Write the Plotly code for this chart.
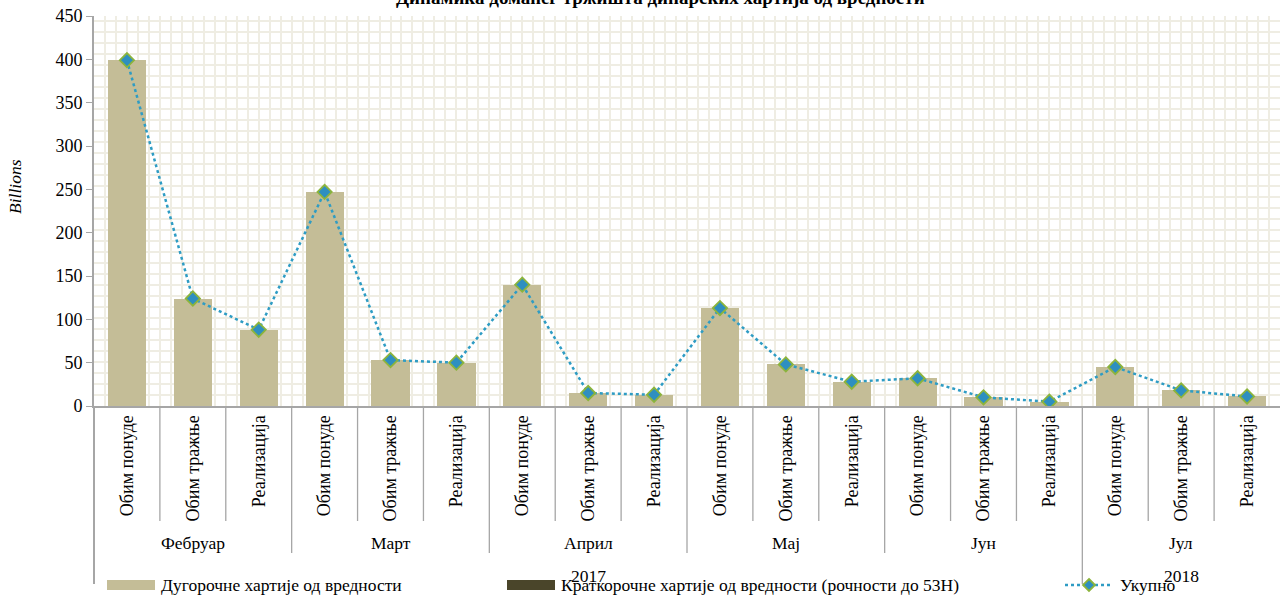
import plotly.graph_objects as go

# ---- data ----
months = ["Фебруар", "Март", "Април", "Мај", "Јун", "Јул"]
measures = ["Обим понуде", "Обим тражње", "Реализација"]
years = ["2017", "2018"]
year_months = [5, 1]  # number of months in each year group
long_term = [399, 124, 88, 247, 53, 50, 140, 15, 13, 113, 48, 28, 32, 10, 5, 45, 18, 11]
short_term = [0] * 18
total = [a + b for a, b in zip(long_term, short_term)]

series_names = ["Дугорочне хартије од вредности",
                "Краткорочне хартије од вредности (рочности до 53Н)",
                "Укупно"]
title_text = "Динамика домаћег тржишта динарских хартија од вредности"
y_title = "Billions"
y_ticks = [0, 50, 100, 150, 200, 250, 300, 350, 400, 450]

# ---- styling ----
W, H = 1280, 596
L, R, T, B = 94, 0, 16, 190
plot_h = H - T - B
FONT = "Liberation Serif, Times New Roman, serif"
FS = 17.5
FS_TICK = 18
BEIGE = "#C4BD97"
OLIVE = "#4A452A"
LINE_C = "#2E9CC4"
AX_C = "#A6A6A6"
PAT_C = "#EFEDE3"

def py(pix):  # pixel row -> paper y
    return (H - B - pix) / plot_h

def px(pix):  # pixel column -> paper x
    return (pix - L) / (W - L - R)

n = len(months) * len(measures)
xs = list(range(n))
labels = [m for _ in months for m in measures]

fig = go.Figure()
fig.add_trace(go.Bar(x=xs, y=long_term, name=series_names[0], marker=dict(color=BEIGE, line=dict(width=0)),
                     width=0.58, showlegend=False, hoverinfo="skip"))
fig.add_trace(go.Bar(x=xs, y=short_term, name=series_names[1], marker=dict(color=OLIVE, line=dict(width=0)),
                     width=0.58, showlegend=False, hoverinfo="skip"))
fig.add_trace(go.Scatter(x=xs, y=total, name=series_names[2], mode="lines+markers",
                         line=dict(color=LINE_C, width=2.5, dash="dot"),
                         marker=dict(symbol="diamond", size=11, color="#2E8FC0",
                                     line=dict(color="#8CB43C", width=1.8)),
                         showlegend=False, hoverinfo="skip"))

shapes = []
annotations = []
k = len(measures)
# dividers between measures inside a month
for mi in range(len(months)):
    for j in range(1, k):
        xb = mi * k + j - 0.5
        shapes.append(dict(type="line", xref="x", yref="paper", x0=xb, x1=xb, y0=0, y1=py(521),
                           line=dict(color=AX_C, width=1.3), layer="above"))
# dividers between months / years
year_bounds = []
acc = 0
for c in year_months:
    acc += c
    year_bounds.append(acc)
for mi in range(1, len(months)):
    xb = mi * k - 0.5
    y_end = py(584) if mi in year_bounds else py(553)
    shapes.append(dict(type="line", xref="x", yref="paper", x0=xb, x1=xb, y0=0, y1=y_end,
                       line=dict(color=AX_C, width=1.3), layer="above"))
# left extension of y axis line
shapes.append(dict(type="line", xref="paper", yref="paper", x0=0, x1=0, y0=0, y1=py(584),
                   line=dict(color=AX_C, width=2), layer="above"))

# month labels
for mi, m in enumerate(months):
    annotations.append(dict(x=mi * k + (k - 1) / 2, y=py(543), xref="x", yref="paper", text=m,
                            showarrow=False, xanchor="center", yanchor="middle",
                            font=dict(family=FONT, size=FS, color="black")))
# year labels
start = 0
for yname, c in zip(years, year_months):
    first = start * k
    last = (start + c) * k - 1
    annotations.append(dict(x=(first + last) / 2, y=py(576), xref="x", yref="paper", text=yname,
                            showarrow=False, xanchor="center", yanchor="middle",
                            font=dict(family=FONT, size=FS, color="black")))
    start += c

# title (cut at top, as in reference)
annotations.append(dict(x=px(660), y=py(10), xref="paper", yref="paper", text="<b>" + title_text + "</b>",
                        showarrow=False, xanchor="center", yanchor="bottom",
                        font=dict(family=FONT, size=19, color="black")))
# y title
annotations.append(dict(x=px(15), y=py(187), xref="paper", yref="paper", text=y_title, textangle=-90,
                        showarrow=False, xanchor="center", yanchor="middle",
                        font=dict(family=FONT, size=FS, color="black", style="italic")))

# legend (manual)
leg_y = py(585)
sw = [(107, 155), (507, 555)]
cols = [BEIGE, OLIVE]
for (a, b), c, nm in zip(sw, cols, series_names[:2]):
    shapes.append(dict(type="rect", xref="paper", yref="paper", x0=px(a), x1=px(b),
                       y0=py(590), y1=py(580), fillcolor=c, line=dict(width=0), layer="above"))
    annotations.append(dict(x=px(b + 4), y=leg_y, xref="paper", yref="paper", text=nm, showarrow=False,
                            xanchor="left", yanchor="middle", font=dict(family=FONT, size=FS, color="black")))
shapes.append(dict(type="line", xref="paper", yref="paper", x0=px(1065), x1=px(1112), y0=leg_y, y1=leg_y,
                   line=dict(color=LINE_C, width=2.5, dash="dot"), layer="above"))
shapes.append(dict(type="path", xref="paper", yref="paper", xsizemode="pixel", ysizemode="pixel",
                   xanchor=px(1089), yanchor=leg_y, path="M0,6 L6,0 L0,-6 L-6,0 Z",
                   fillcolor="#2E8FC0", line=dict(color="#8CB43C", width=1.8), layer="above"))
annotations.append(dict(x=px(1118), y=leg_y, xref="paper", yref="paper", text=series_names[2], showarrow=False,
                        xanchor="left", yanchor="middle", font=dict(family=FONT, size=FS, color="black")))

fig.update_layout(
    width=W, height=H,
    margin=dict(l=L, r=R, t=T, b=B),
    paper_bgcolor="white", plot_bgcolor="white",
    barmode="stack", bargap=0.42,
    showlegend=False,
    font=dict(family=FONT, size=FS, color="black"),
    shapes=shapes, annotations=annotations,
    xaxis=dict(range=[-0.5, n - 0.5], tickmode="array", tickvals=xs, ticktext=labels,
               tickangle=-90, ticks="", showgrid=False, zeroline=False,
               showline=True, linecolor=AX_C, linewidth=2,
               tickfont=dict(family=FONT, size=FS_TICK, color="black"),
               minor=dict(dtick=1 / 6, tick0=-0.5, showgrid=True, gridcolor=PAT_C, gridwidth=2, ticks="")),
    yaxis=dict(range=[0, 450], tickmode="array", tickvals=y_ticks, ticks="outside", ticklen=6,
               tickcolor=AX_C, tickwidth=1.3, showgrid=False, zeroline=False,
               showline=True, linecolor=AX_C, linewidth=2,
               tickfont=dict(family=FONT, size=FS_TICK, color="black"),
               minor=dict(dtick=450 * 11 / plot_h, tick0=0, showgrid=True, gridcolor=PAT_C, gridwidth=2, ticks="")),
)

fig.write_html("out.html", config={"displayModeBar": False},
               post_script="document.body.style.margin='0';document.body.style.padding='0';")
